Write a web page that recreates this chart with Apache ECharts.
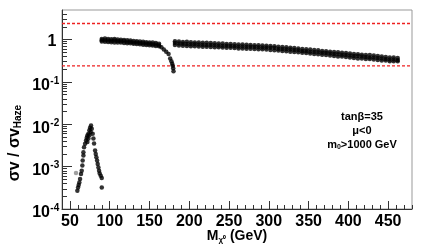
<!DOCTYPE html>
<html><head><meta charset="utf-8">
<script src="https://cdn.jsdelivr.net/npm/echarts@6/dist/echarts.min.js"></script>
<style>html,body{margin:0;padding:0;background:#fff}#c{width:423px;height:249px}</style>
</head><body><div id="c"></div>
<script>
// ---- data ----
const funnelMass = [59.3,60.2,61.0,61.8,62.7,63.9,64.8,65.6,66.0,66.9,66.9,67.7,69.0,70.2,71.1,71.9,73.2,74.4,75.3,76.5,77.4,76.1,74.4,73.2,71.9,78.6,79.5,80.3,81.6,82.4,83.2,84.1,84.9,85.8,86.6,87.4,88.7,90.0,90.0];
const funnelSigma = [2.7e-4,3.2e-4,3.7e-4,4.2e-4,5.1e-4,6.7e-4,8.0e-4,1.06e-3,1.39e-3,1.83e-3,2.19e-3,2.88e-3,3.47e-3,4.16e-3,4.82e-3,5.47e-3,6.0e-3,7.2e-3,8.3e-3,9.4e-3,7.9e-3,6.6e-3,5.5e-3,4.6e-3,3.8e-3,6.0e-3,4.6e-3,3.5e-3,2.4e-3,2.0e-3,1.67e-3,1.39e-3,1.16e-3,9.6e-4,8.0e-4,6.9e-4,6.1e-4,5.4e-4,3.2e-4];
const grayMass = [57.6];
const graySigma = [7.1e-4];

const band1Mass = [90,94,98,102,106,110,114,118,122,126,130,134,138,142,146,150,154,158,162];
const band1Top  = [1.04,1.06,1.03,1.02,1.04,1.00,0.99,0.98,0.96,0.95,0.93,0.92,0.90,0.89,0.87,0.86,0.85,0.83,0.80];
const band1Mid  = [0.96,0.97,0.95,0.94,0.95,0.93,0.92,0.91,0.89,0.88,0.86,0.85,0.83,0.82,0.81,0.80,0.78,0.77,0.74];
const band1Bot  = [0.90,0.89,0.88,0.87,0.86,0.86,0.85,0.83,0.82,0.82,0.80,0.79,0.78,0.76,0.75,0.74,0.73,0.71,0.70];

const dipMass  = [165,168,171,174,176,177.5,178.5,179.2,179.8,180.2];
const dipSigma = [0.66,0.58,0.52,0.46,0.36,0.31,0.27,0.24,0.21,0.18];

const band2Mass = [182,187,192,197,202,207,212,217,222,227,232,237,242,247,252,257,262,267,272,277,282,287,292,297,302,307,312,317,322,327,332,337,342,347,352,357,362,367,372,377,382,387,392,397,402,407,412,417,422,427,432,437,442,447,452,457,462];
const band2Top = [0.92,0.90,0.88,0.89,0.87,0.86,0.86,0.84,0.84,0.83,0.82,0.81,0.81,0.79,0.79,0.78,0.77,0.77,0.76,0.75,0.74,0.74,0.73,0.72,0.71,0.70,0.68,0.67,0.66,0.64,0.63,0.62,0.60,0.59,0.58,0.57,0.56,0.54,0.53,0.52,0.51,0.50,0.49,0.48,0.47,0.46,0.45,0.44,0.43,0.43,0.42,0.41,0.40,0.39,0.38,0.38,0.37];
const band2Mid = [0.83,0.81,0.80,0.79,0.78,0.78,0.77,0.76,0.75,0.75,0.74,0.73,0.72,0.72,0.71,0.70,0.69,0.69,0.68,0.68,0.67,0.66,0.65,0.65,0.64,0.63,0.61,0.60,0.59,0.58,0.57,0.56,0.54,0.53,0.52,0.51,0.50,0.49,0.48,0.47,0.46,0.45,0.44,0.43,0.42,0.41,0.41,0.40,0.39,0.38,0.38,0.37,0.36,0.35,0.34,0.34,0.33];
const band2Bot = [0.75,0.73,0.72,0.71,0.70,0.70,0.69,0.68,0.68,0.67,0.66,0.66,0.65,0.64,0.64,0.63,0.62,0.62,0.61,0.61,0.60,0.59,0.59,0.58,0.57,0.56,0.55,0.54,0.53,0.52,0.51,0.50,0.49,0.48,0.47,0.46,0.45,0.44,0.43,0.42,0.41,0.40,0.40,0.39,0.38,0.37,0.36,0.36,0.35,0.35,0.34,0.33,0.32,0.32,0.31,0.31,0.31];

const refLines = [2.4, 0.24];
const xRange = [40, 480];
const xMajorTicks = [50,100,150,200,250,300,350,400,450];
const yMajorTicks = [1e-4,1e-3,1e-2,1e-1,1];
const yMinorTicks = [2e-4,3e-4,4e-4,5e-4,6e-4,7e-4,8e-4,9e-4,2e-3,3e-3,4e-3,5e-3,6e-3,7e-3,8e-3,9e-3,2e-2,3e-2,4e-2,5e-2,6e-2,7e-2,8e-2,9e-2,0.2,0.3,0.4,0.5,0.6,0.7,0.8,0.9,2,3,4];
const annotations = ['tanβ=35', 'μ<0', 'm', '0', '>1000 GeV'];

// ---- build ----
function zip(xs, ys){ return xs.map((x,i)=>[x, ys[i]]); }
const blackPts = [].concat(
  zip(funnelMass, funnelSigma),
  zip(band1Mass, band1Top), zip(band1Mass, band1Mid), zip(band1Mass, band1Bot),
  zip(dipMass, dipSigma),
  zip(band2Mass, band2Top), zip(band2Mass, band2Mid), zip(band2Mass, band2Bot)
);
const FONT = 'Liberation Sans, Arial, sans-serif';
const axisCol = '#333';
const chart = echarts.init(document.getElementById('c'), null, {renderer:'canvas'});
const refSeries = refLines.map(v => ({
  type:'line', xAxisIndex:0, yAxisIndex:0, data:[[xRange[0], v],[xRange[1], v]],
  symbol:'none', silent:true, z:1,
  lineStyle:{color:'#ee2020', type:[3,2], width:1.4}
}));
const baseGraphic = [
  {type:'text', x:15, y:143, rotation:Math.PI/2,
   style:{text:'{a|σv / σv}{b|Haze}', align:'center', verticalAlign:'middle',
     rich:{a:{fontSize:16, fontWeight:'bold', fontFamily:FONT, fill:'#000'},
           b:{fontSize:10, fontWeight:'bold', fontFamily:FONT, fill:'#000', verticalAlign:'bottom', padding:[7,0,0,0]}}}},
  {type:'text', x:237, y:236,
   style:{text:'{a|M}{s|χ⁰}{a| (GeV)}', align:'center', verticalAlign:'middle',
     rich:{a:{fontSize:14, fontWeight:'bold', fontFamily:FONT, fill:'#000'},
           s:{fontSize:8, fontWeight:'bold', fontFamily:FONT, fill:'#000', verticalAlign:'bottom', padding:[7,0,0,0]}}}},
  {type:'text', x:362, y:117,
   style:{text:annotations[0], align:'center', verticalAlign:'middle', font:'bold 11px '+FONT, fill:'#000'}},
  {type:'text', x:362, y:131,
   style:{text:annotations[1], align:'center', verticalAlign:'middle', font:'bold 11px '+FONT, fill:'#000'}},
  {type:'text', x:362, y:145,
   style:{text:'{a|'+annotations[2]+'}{s|'+annotations[3]+'}{a|'+annotations[4]+'}', align:'center', verticalAlign:'middle',
     rich:{a:{fontSize:11, fontWeight:'bold', fontFamily:FONT, fill:'#000'},
           s:{fontSize:7, fontWeight:'bold', fontFamily:FONT, fill:'#000', verticalAlign:'bottom', padding:[5,0,0,0]}}}}
];
const option = {
  animation:false,
  backgroundColor:'#fff',
  grid:{left:62, top:10, width:350, height:199, show:true, borderColor:'#999', borderWidth:1},
  xAxis:[
    {type:'value', min:xRange[0], max:xRange[1], interval:10, position:'bottom',
     axisLine:{show:true, lineStyle:{color:axisCol}},
     axisTick:{show:true, inside:true, length:4, lineStyle:{color:axisCol}},
     axisLabel:{show:false}, splitLine:{show:false}},
    {type:'value', min:xRange[0], max:xRange[1], position:'bottom',
     axisLine:{show:false},
     axisTick:{show:true, inside:true, length:8, customValues:xMajorTicks, lineStyle:{color:axisCol}},
     axisLabel:{show:true, customValues:xMajorTicks, fontSize:16, fontWeight:'bold', color:'#000', fontFamily:FONT, margin:5},
     splitLine:{show:false}}
  ],
  yAxis:[
    {type:'log', logBase:10, min:1e-4, max:5, position:'left',
     axisLine:{show:true, lineStyle:{color:axisCol}},
     axisTick:{show:true, inside:true, length:10, customValues:yMajorTicks, lineStyle:{color:axisCol}},
     axisLabel:{show:false},
     splitLine:{show:false}},
    {type:'log', logBase:10, min:1e-4, max:5, position:'left', offset:0,
     axisLine:{show:false},
     axisTick:{show:true, inside:true, length:5, customValues:yMinorTicks, lineStyle:{color:axisCol}},
     axisLabel:{show:false}, splitLine:{show:false}}
  ],
  series:[
    ...refSeries,
    {type:'scatter', xAxisIndex:0, yAxisIndex:0, data:blackPts, symbol:'circle', symbolSize:4.5,
     itemStyle:{color:'#000'}, silent:true, z:3},
    {type:'scatter', xAxisIndex:0, yAxisIndex:0, data:zip(grayMass, graySigma), symbol:'circle', symbolSize:4.5,
     itemStyle:{color:'#888'}, silent:true, z:3}
  ],
  graphic: baseGraphic
};
chart.setOption(option);

// y tick labels placed at the axis' own pixel positions
const labelGraphic = [];
yMajorTicks.forEach(v => {
  const py = chart.convertToPixel({yAxisIndex:0}, v);
  const e = Math.round(Math.log10(v));
  if (e === 0) {
    labelGraphic.push({type:'text', x:56.5, y:py+1.5,
      style:{text:'1', align:'right', verticalAlign:'middle', font:'bold 16px '+FONT, fill:'#000'}});
  } else {
    labelGraphic.push({type:'text', x:50, y:py+4,
      style:{text:'10', align:'right', verticalAlign:'middle', font:'bold 16px '+FONT, fill:'#000'}});
    labelGraphic.push({type:'text', x:50.3, y:py-1,
      style:{text:String(e), align:'left', verticalAlign:'middle', font:'bold 10px '+FONT, fill:'#000'}});
  }
});
chart.setOption({graphic: baseGraphic.concat(labelGraphic)});
</script></body></html>
